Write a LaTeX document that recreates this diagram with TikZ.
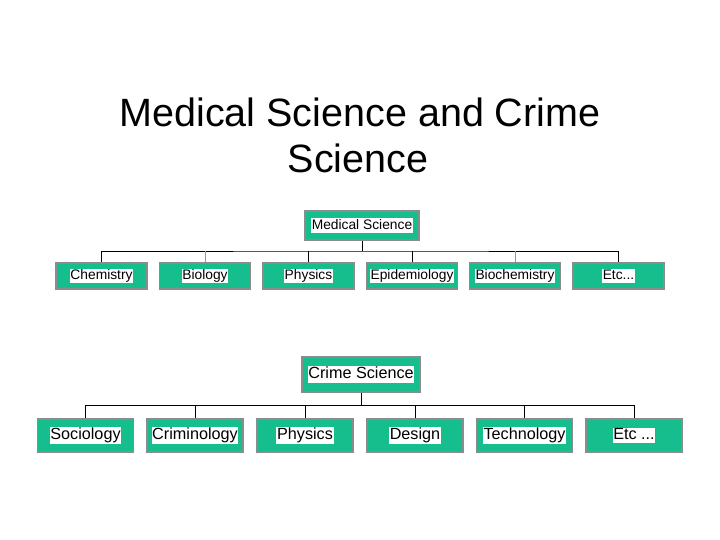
\documentclass[tikz,border=0pt]{standalone}
\usepackage{fontspec}
\setmainfont{Liberation Sans}
\definecolor{boxgreen}{RGB}{22,190,142}
\definecolor{boxedge}{RGB}{140,140,140}
\definecolor{stubgray}{RGB}{150,150,150}
\newcommand{\hl}[1]{{\setlength{\fboxsep}{0.6bp}\colorbox{white}{\vphantom{Ag}#1}}}
\tikzset{
  leaf/.style={rectangle, fill=boxgreen, draw=boxedge, line width=1.2bp, inner sep=0pt},
  smallleaf/.style={leaf, minimum width=91bp, minimum height=26bp, font=\fontsize{13.8bp}{15bp}\selectfont},
  bigleaf/.style={leaf, minimum width=96bp, minimum height=33bp, font=\fontsize{16.2bp}{18bp}\selectfont},
  conn/.style={draw=black, line width=0.9bp},
  connb/.style={draw=stubgray, line width=0.9bp},
  title/.style={font=\fontsize{39.5bp}{44bp}\selectfont, anchor=base, inner sep=0pt}
}
\begin{document}
\begin{tikzpicture}[x=1bp,y=-1bp]
\useasboundingbox (0,0) rectangle (720,540);
\node[title] (t1) at (360,127) {Medical Science and Crime};
\node[title] (t2) at (358,173) {Science};

% Medical science tree
\node[smallleaf, minimum width=114bp, minimum height=29bp] (ms) at (362,225.5) {\hl{Medical Science}};
\node[smallleaf] (m1) at (101.5,276) {\hl{Chemistry}};
\node[smallleaf] (m2) at (205,276) {\hl{Biology}};
\node[smallleaf] (m3) at (308.5,276) {\hl{Physics}};
\node[smallleaf] (m4) at (412,276) {\hl{Epidemiology}};
\node[smallleaf] (m5) at (515,276) {\hl{Biochemistry}};
\node[smallleaf] (m6) at (618.5,276) {\hl{Etc...}};
\coordinate (mj) at (362,251);
\draw[conn] (ms.south) -- (mj);
\draw[conn] (m1.north) |- (mj) -| (m6.north);
\foreach \n in {m3,m4}{\draw[conn] (\n.north) -- (\n.north |- mj);}
\foreach \n in {m2,m5}{\draw[connb] (\n.north) -- (\n.north |- mj);}

% Crime science tree
\node[bigleaf, minimum width=118bp, minimum height=35bp] (cs) at (361,374.5) {\hl{Crime Science}};
\node[bigleaf] (c1) at (85.5,435.5) {\hl{Sociology}};
\node[bigleaf] (c2) at (195,435.5) {\hl{Criminology}};
\node[bigleaf] (c3) at (305,435.5) {\hl{Physics}};
\node[bigleaf] (c4) at (415,435.5) {\hl{Design}};
\node[bigleaf] (c5) at (524.5,435.5) {\hl{Technology}};
\node[bigleaf] (c6) at (634,435.5) {\hl{Etc ...}};
\coordinate (cj) at (361,405.5);
\draw[conn] (cs.south) -- (cj);
\draw[conn] (c1.north) |- (cj) -| (c6.north);
\foreach \n in {c2,c3,c4,c5}{\draw[conn] (\n.north) -- (\n.north |- cj);}
\end{tikzpicture}
\end{document}
